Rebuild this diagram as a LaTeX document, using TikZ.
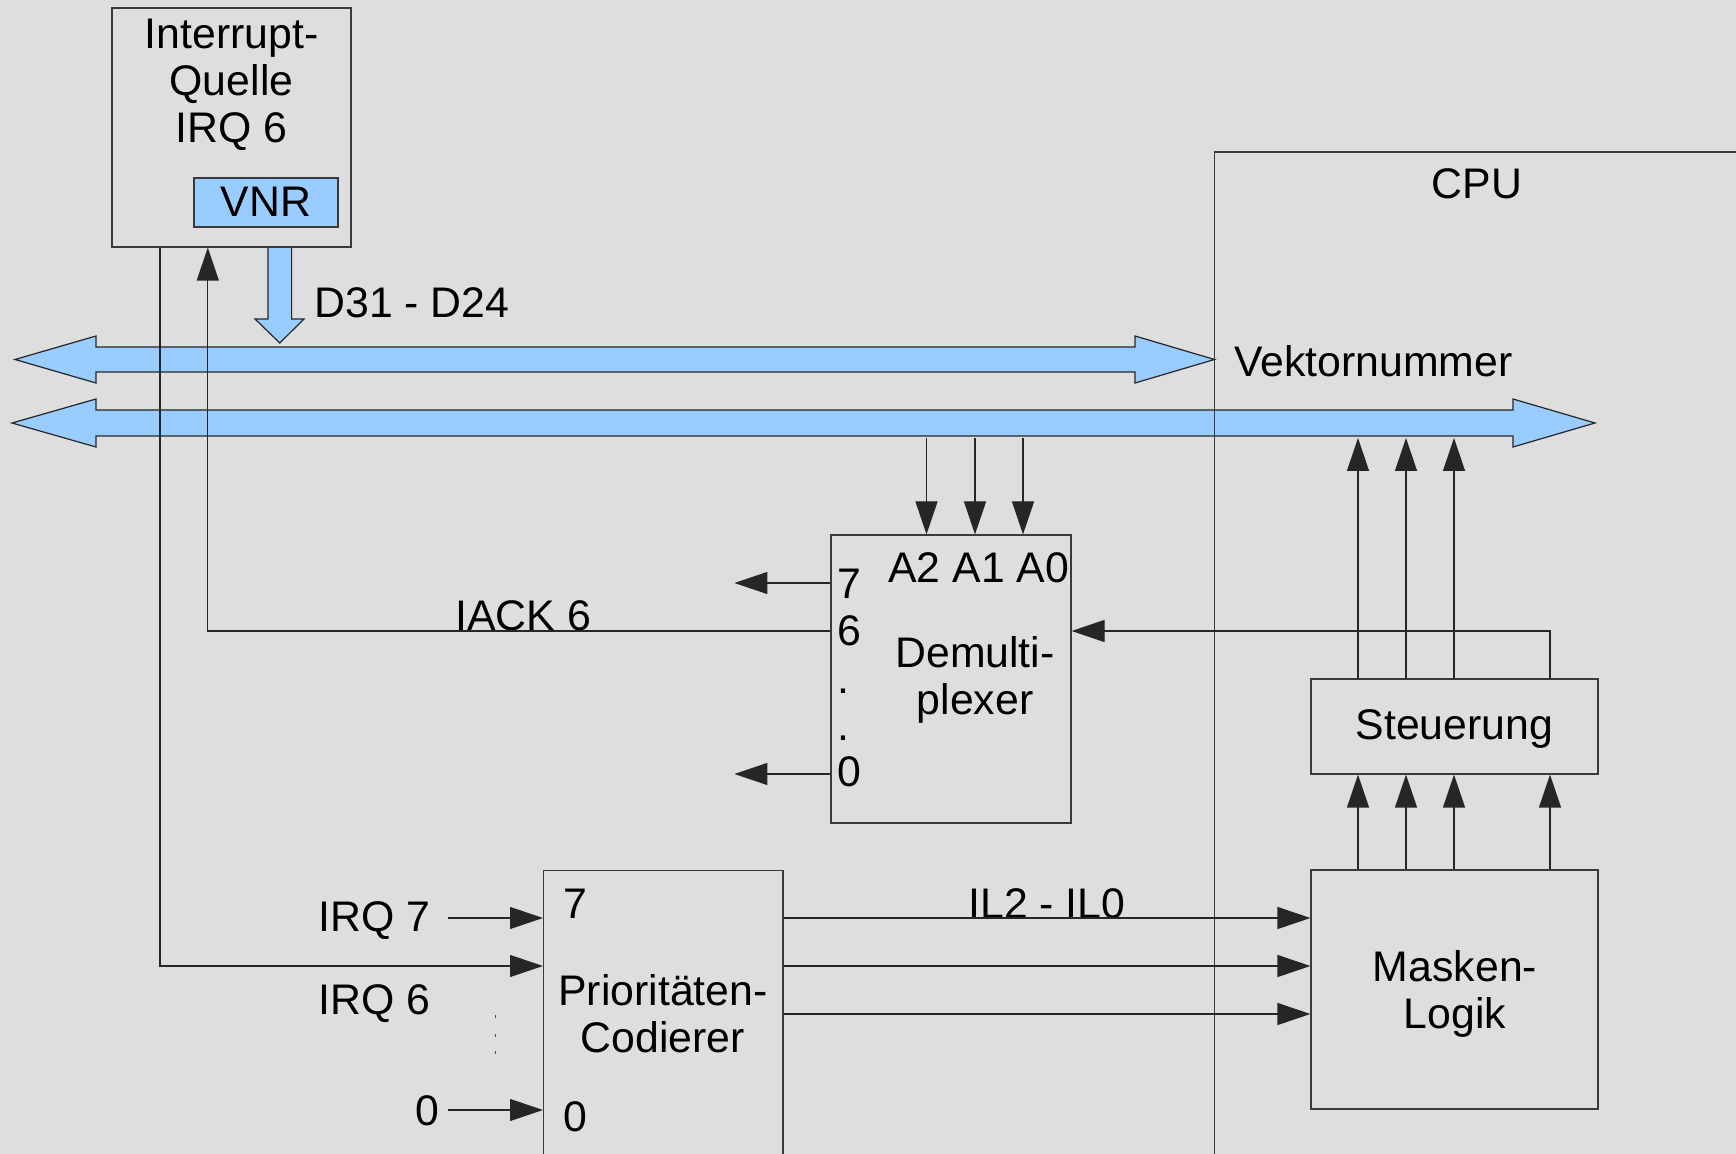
\documentclass[tikz,border=0pt]{standalone}
\usepackage{fontspec}
\setmainfont{Liberation Sans}
\usetikzlibrary{arrows.meta,positioning,calc}
\definecolor{bggrey}{HTML}{DEDEDE}
\definecolor{busblue}{HTML}{99CCFF}
\definecolor{edgegrey}{HTML}{3A3A3A}
\begin{document}
\begin{tikzpicture}[x=0.5pt,y=-0.5pt,
      font=\fontsize{21.4pt}{23.5pt}\selectfont,
      blk/.style={draw=edgegrey,line width=0.6pt,inner sep=0pt},
      wire/.style={draw=black!85,line width=0.6pt},
      sig/.style={wire,-{Triangle[length=16.5pt,width=11pt]}},
      bus/.style={draw=black!85,line width=0.6pt,fill=busblue,line join=miter},
      txt/.style={inner sep=0pt,anchor=base},
      txtc/.style={inner sep=0pt,anchor=base,align=center}]
    \useasboundingbox (0,0) rectangle (1736,1154);
    \fill[bggrey] (0,0) rectangle (1736,1154);
    \clip (0,0) rectangle (1736,1154);
    % buses
    \draw[bus] (15,359.5) -- (96,336) -- (96,347) -- (1135,347) -- (1135,336) -- (1214.5,359.5)
      -- (1135,383) -- (1135,372) -- (96,372) -- (96,383) -- cycle;
    \draw[bus] (12,423) -- (96,399) -- (96,410) -- (1513,410) -- (1513,399) -- (1595,423)
      -- (1513,447) -- (1513,436) -- (96,436) -- (96,447) -- cycle;
    \draw[bus] (268,247) -- (268,319) -- (255,319) -- (279.8,343) -- (304,319) -- (291.6,319) -- (291.6,247) -- cycle;
    \coordinate (b2) at (0,438);
    % blocks
    \node[blk,minimum width=119.5pt,minimum height=119.5pt] (quelle) at (231.5,127.5) {};
    \node[blk,fill=busblue,minimum width=72pt,minimum height=24.5pt] (vnr) at (266,202.5) {};
    \node[blk,minimum width=292.75pt,minimum height=524pt] (cpu) at (1507.25,676) {};
    \node[blk,minimum width=120pt,minimum height=144pt] (demux) at (951,679) {};
    \node[blk,minimum width=143.5pt,minimum height=47.5pt] (steuer) at (1454.5,726.5) {};
    \node[blk,minimum width=143.5pt,minimum height=119.5pt] (maske) at (1454.5,989.5) {};
    \node[blk,minimum width=119.7pt,minimum height=164.65pt] (prio) at (663.3,1035.35) {};
    % texts (multi-line nodes sit on their last baseline)
    \node[txtc] (tquelle) at (231.5,143) {Interrupt-\\Quelle\\IRQ 6};
    \node[txt] (tvnr) at (266,217) {VNR};
    \node[txt,anchor=base west] (tdata) at (314,318) {D31 - D24};
    \node[txt] (tcpu) at (1477,199) {CPU};
    \node[txt,anchor=base west] (tvek) at (1234,377) {Vektornummer};
    \node[txt,anchor=base west] (taddr) at (888,583) {A2 A1 A0};
    \node[txtc,align=left,anchor=base west] (tdout) at (837,787) {7\\6\\.\\.\\0};
    \node[txtc] (tdemux) at (975,715) {Demulti-\\plexer};
    \node[txt,anchor=base west] (tiack) at (455,631) {IACK 6};
    \node[txt] (tsteuer) at (1454.5,740) {Steuerung};
    \node[txtc] (tmaske) at (1455,1028) {Masken-\\Logik};
    \node[txt,anchor=base west] (tp7) at (563,918) {7};
    \node[txt,anchor=base west] (tp0) at (563,1131) {0};
    \node[txtc] (tprio) at (663,1052) {Prioritäten-\\Codierer};
    \node[txt,anchor=base east] (tirq7) at (431,931) {IRQ 7};
    \node[txt,anchor=base east] (tirq6) at (431,1014) {IRQ 6};
    \node[txt,anchor=base east] (tirq0) at (440,1125) {0};
    \node[txt] (til) at (1047,918) {IL2 - IL0};
    \foreach \y in {1015,1034,1051} { \fill[black!70] (494.5,\y) rectangle +(1.5,3); }
    % connections
    \coordinate (in7) at (448,918);
    \coordinate (in0) at (448,1110);
    \draw[sig] (in7) -- (prio.west |- in7);
    \draw[sig] (in0) -- (prio.west |- in0);
    \draw[sig] (quelle.south -| 160,0) |- (prio.west |- 0,966);
    \draw[sig] (demux.west |- 0,631) -| (quelle.south -| 207.8,0);
    \foreach \y in {583,774} { \draw[sig] (demux.west |- 0,\y) -- ++(-96,0); }
    \foreach \x in {926.5,975,1023} { \draw[sig] (b2 -| \x,0) -- (demux.north -| \x,0); }
    \foreach \x in {1358,1406,1454} { \draw[sig] (steuer.north -| \x,0) -- (b2 -| \x,0); }
    \draw[sig] (steuer.north -| 1550,0) |- (demux.east |- 0,631);
    \foreach \x in {1358,1406,1454,1550} { \draw[sig] (maske.north -| \x,0) -- (steuer.south -| \x,0); }
    \foreach \y in {918,966,1014} { \draw[sig] (prio.east |- 0,\y) -- (maske.west |- 0,\y); }
  \end{tikzpicture}
\end{document}
